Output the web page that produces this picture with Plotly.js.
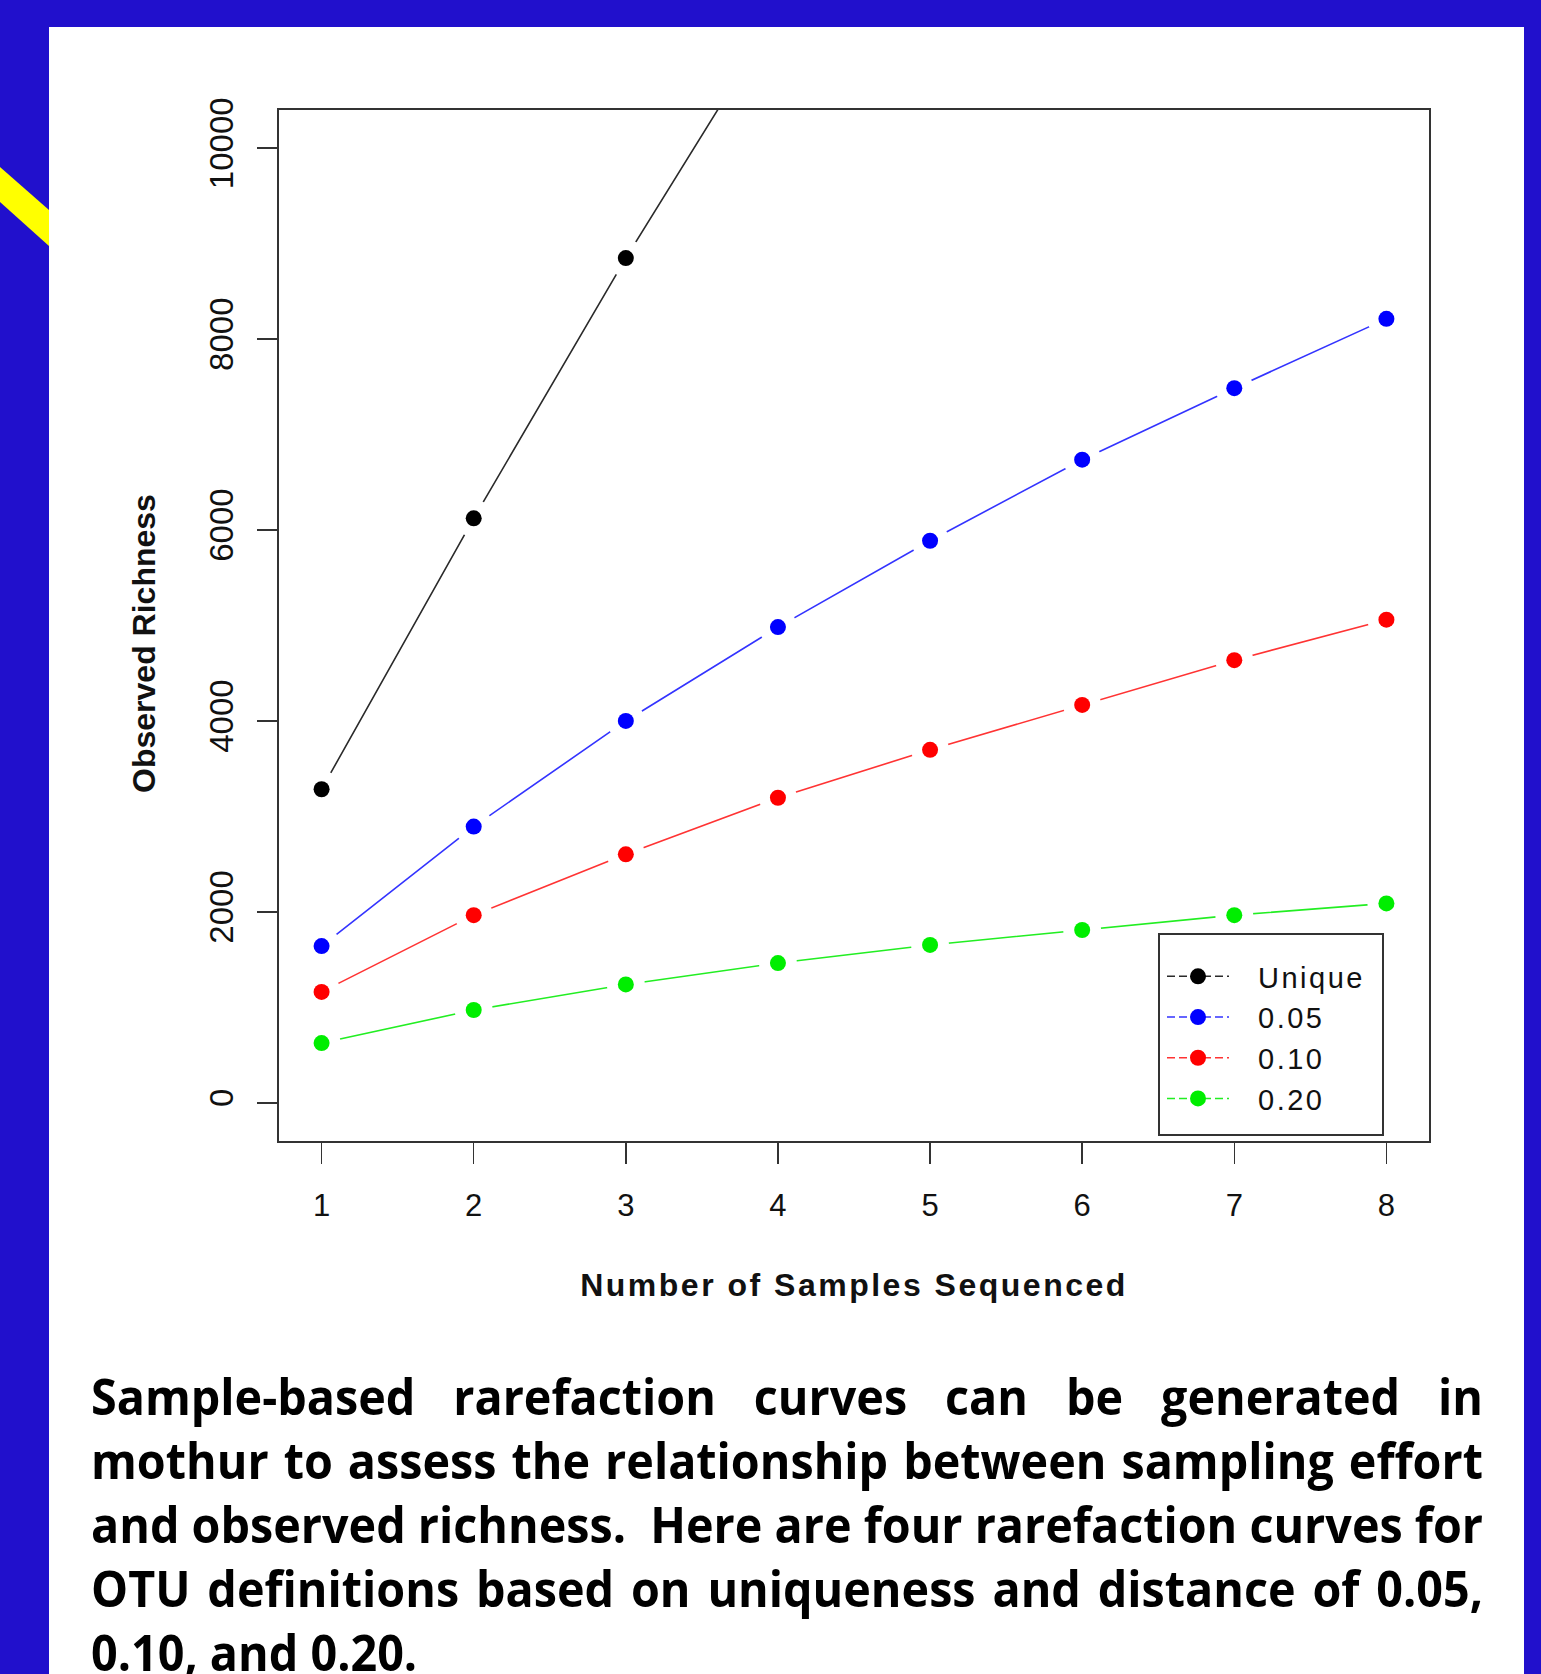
<!DOCTYPE html>
<html>
<head>
<meta charset="utf-8">
<script src="https://cdn.plot.ly/plotly-3.0.1.min.js"></script>
<style>
  html, body { margin: 0; padding: 0; width: 1541px; height: 1674px; overflow: hidden; background: #2110CC; }
  #stripe { position: absolute; left: 0; top: 0; width: 49px; height: 300px; background: #FFFF00;
            clip-path: polygon(0px 167px, 49px 210px, 49px 246px, 0px 202px); }
  #panel { position: absolute; left: 49px; top: 27px; width: 1475px; height: 1647px; background: #ffffff; }
  #chart { position: absolute; left: 0; top: 0; width: 1541px; height: 1330px; }
  #caption { position: absolute; left: 91px; top: 1364px; transform-origin: 0 0;
             font-family: 'Open Sans', 'Noto Sans', sans-serif; font-weight: 700; font-size: 50px;
             line-height: 64px; color: #000; }
  #caption div { white-space: nowrap; text-align: justify; text-align-last: justify; }
  #caption div.last { text-align: left; text-align-last: left; }
  .g-xtitle text { letter-spacing: 2.5px; }
  .g-ytitle { transform: translateY(18px); }
  .legend .scrollbox, .legend .groups, .legend .traces { clip-path: none !important; }
  .legendtext { letter-spacing: 2.5px; transform: translateX(24px); }
</style>
</head>
<body>
<div id="stripe"></div>
<div id="panel"></div>
<div id="chart"></div>
<div id="caption"></div>
<script>
// ---- data ----
const samples = [1, 2, 3, 4, 5, 6, 7, 8];
const richUnique = [3285, 6123, 8849, 11420, null, null, null, null];
const rich005 = [1642, 2894, 4000, 4983, 5888, 6737, 7486, 8212];
const rich010 = [1162, 1966, 2603, 3196, 3698, 4168, 4637, 5061];
const rich020 = [626, 972, 1240, 1464, 1654, 1810, 1966, 2089];
const seriesNames = ['Unique', '0.05', '0.10', '0.20'];
const xTickVals = [1, 2, 3, 4, 5, 6, 7, 8];
const yTickVals = [0, 2000, 4000, 6000, 8000, 10000];
const xTitle = 'Number of Samples Sequenced';
const yTitle = 'Observed Richness';
const captionLines = [
  'Sample-based rarefaction curves can be generated in',
  'mothur to assess the relationship between sampling effort',
  'and observed richness.\u00a0 Here are four rarefaction curves for',
  'OTU definitions based on uniqueness and distance of 0.05,',
  '0.10, and 0.20.'
];

// ---- styles ----
const seriesY = [richUnique, rich005, rich010, rich020];
const lineColors = ['#2a2a2a', '#3333ff', '#ff3333', '#22ee22'];
const markColors = ['#000000', '#0000ff', '#ff0000', '#00ee00'];
const FONT = 'Liberation Sans, Arial, Helvetica, sans-serif';

const traces = [];
// connecting lines
seriesY.forEach((ys, i) => traces.push({
  x: samples, y: ys, type: 'scatter', mode: 'lines', showlegend: false, hoverinfo: 'skip',
  line: { color: lineColors[i], width: 1.6 }, connectgaps: false
}));
// white gaps around points (R type = "b")
seriesY.forEach((ys) => traces.push({
  x: samples, y: ys, type: 'scatter', mode: 'markers', showlegend: false, hoverinfo: 'skip',
  marker: { color: '#ffffff', size: 38 }
}));
// points
seriesY.forEach((ys, i) => traces.push({
  x: samples, y: ys, type: 'scatter', mode: 'markers', showlegend: false, name: seriesNames[i],
  marker: { color: markColors[i], size: 16 }
}));
// legend entries
seriesNames.forEach((nm, i) => traces.push({
  x: [null], y: [null], type: 'scatter', mode: 'lines+markers', name: nm, showlegend: true,
  line: { color: lineColors[i], width: 1.5, dash: '8px,4px' },
  marker: { color: markColors[i], size: 16 }
}));

// plot area pixel geometry
const W = 1541, H = 1330;
const L = 279, R = 1429, T = 110, B = 1141;
const pw = R - L, ph = B - T;
const px2x = (px) => (px - L) / pw;
const px2y = (py) => (B - py) / ph;

const layout = {
  width: W, height: H,
  margin: { l: L, r: W - R, t: T, b: H - B, pad: 0 },
  paper_bgcolor: 'rgba(0,0,0,0)', plot_bgcolor: 'rgba(0,0,0,0)',
  font: { family: FONT, color: '#111' },
  showlegend: true,
  xaxis: {
    range: [0.72, 8.28], tickvals: xTickVals, ticktext: xTickVals.map(String),
    ticks: 'outside', ticklen: 21, tickwidth: 1.5, tickcolor: '#333',
    showline: true, mirror: true, linecolor: '#333', linewidth: 2,
    showgrid: false, zeroline: false, ticklabelstandoff: 15,
    tickfont: { family: FONT, size: 31, color: '#111' },
    title: { text: xTitle, standoff: 51, font: { family: FONT, size: 32, weight: 'bold', color: '#111' } },
    automargin: false, fixedrange: true
  },
  yaxis: {
    range: [-400, 10400], tickvals: yTickVals, ticktext: yTickVals.map(String), tickangle: -90,
    ticks: 'outside', ticklen: 20, tickwidth: 1.5, tickcolor: '#333',
    showline: true, mirror: true, linecolor: '#333', linewidth: 2,
    showgrid: false, zeroline: false, ticklabelstandoff: 11,
    tickfont: { family: FONT, size: 33, color: '#111' },
    title: { text: yTitle, standoff: 38, font: { family: FONT, size: 32, weight: 'bold', color: '#111' } },
    automargin: false, fixedrange: true
  },
  legend: {
    x: px2x(1162), y: px2y(951), xanchor: 'left', yanchor: 'top',
    bgcolor: 'rgba(0,0,0,0)', borderwidth: 0, itemwidth: 62,
    font: { family: FONT, size: 29, color: '#111' }, tracegroupgap: 0
  },
  shapes: [{
    type: 'rect', xref: 'paper', yref: 'paper', layer: 'above',
    x0: px2x(1159), x1: px2x(1383), y0: px2y(1135), y1: px2y(934),
    line: { color: '#333', width: 2 }, fillcolor: 'rgba(0,0,0,0)'
  }]
};

Plotly.newPlot('chart', traces, layout, { staticPlot: true, displayModeBar: false });

// caption
function buildCaption() {
  const cap = document.getElementById('caption');
  cap.innerHTML = '';
  const canvas = document.createElement('canvas');
  const ctx = canvas.getContext('2d');
  ctx.font = "700 50px 'Open Sans'";
  let maxW = 0;
  captionLines.forEach((t, i) => {
    const d = document.createElement('div');
    d.textContent = t;
    if (i === captionLines.length - 1) d.className = 'last';
    cap.appendChild(d);
    maxW = Math.max(maxW, ctx.measureText(t).width);
  });
  const target = 1392;
  const s = target / maxW;
  cap.style.width = (target / s) + 'px';
  cap.style.transform = 'scaleX(' + s + ')';
}
buildCaption();
if (document.fonts && document.fonts.ready) document.fonts.ready.then(buildCaption);
</script>
</body>
</html>
